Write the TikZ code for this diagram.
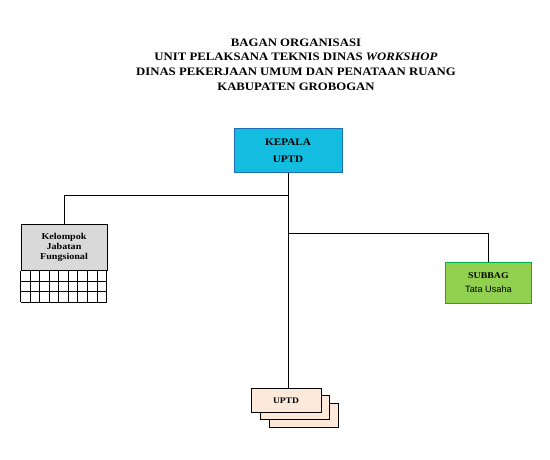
\documentclass[tikz,border=0pt]{standalone}
\usepackage{fontspec}
\setmainfont[FakeStretch=1.12]{Liberation Serif}
\setsansfont{Liberation Sans}
\usetikzlibrary{positioning, backgrounds}
\definecolor{kepalafill}{HTML}{12BDE0}
\definecolor{kepaladraw}{HTML}{1F6BB8}
\definecolor{subbagfill}{HTML}{92D050}
\definecolor{subbagdraw}{HTML}{00B050}
\definecolor{uptdfill}{HTML}{FDE9D9}

\begin{document}
\begin{tikzpicture}[x=1pt, y=-1pt, background rectangle/.style={fill=white}, show background rectangle, inner frame sep=0pt]
		\tikzstyle{unit}=[rectangle, draw=black, line width=1pt, align=center, inner sep=0pt, font=\bfseries\fontsize{8.5}{10.5}\selectfont]
		\tikzstyle{connect}=[line width=1pt]
		\useasboundingbox (0,0) rectangle (550,460);
		\node[align=center, font=\bfseries\fontsize{11.4}{14.8}\selectfont] (judul) at (296,64.5) {BAGAN ORGANISASI\\UNIT PELAKSANA TEKNIS DINAS \textit{WORKSHOP}\\DINAS PEKERJAAN UMUM DAN PENATAAN RUANG\\KABUPATEN GROBOGAN};
		\node[unit, draw=kepaladraw, fill=kepalafill, minimum width=108pt, minimum height=44pt, font=\bfseries\fontsize{10}{17}\selectfont] (kepala) at (288,151) {KEPALA\\UPTD};
		\node[unit, fill=black!15, minimum width=86pt, minimum height=45pt, font=\bfseries\fontsize{9}{10.3}\selectfont] (kelompok) at (64,247.5) {Kelompok\\Jabatan\\Fungsional};
		% kotak-kotak di bawah kelompok
		\foreach \i in {0,...,9}
			\draw[line width=0.8pt] ([xshift=\i*9.56pt]kelompok.south west) -- ++(0,31.7);
		\foreach \j in {1,...,3}
			\draw[line width=0.8pt] ([yshift=-\j*10.57pt]kelompok.south west) -- ++(86,0);
		\node[unit, draw=subbagdraw, fill=subbagfill, minimum width=86pt, minimum height=41pt, font=\bfseries\fontsize{8.8}{14}\selectfont] (subbag) at (488.5,283) {SUBBAG\\\textmd{\sffamily\fontsize{9.2}{14}\selectfont Tata Usaha}};
		% tumpukan UPTD
		\node[unit, fill=uptdfill, minimum width=69pt, minimum height=24pt] (uptd3) at (303.5,415.3) {};
		\node[unit, fill=uptdfill, minimum width=69pt, minimum height=24pt] (uptd2) at (295,407.2) {};
		\node[unit, fill=uptdfill, minimum width=70pt, minimum height=24pt] (uptd) at (286,400.3) {UPTD};
		\coordinate (cabangkiri) at (0,196);
		\coordinate (cabangkanan) at (0,234);
		\draw[connect] (kepala.south) -- (kepala.south |- uptd.north);
		\draw[connect] (kepala.south |- cabangkiri) -| (kelompok.north);
		\draw[connect] (kepala.south |- cabangkanan) -| (subbag.north);
	\end{tikzpicture}
\end{document}
